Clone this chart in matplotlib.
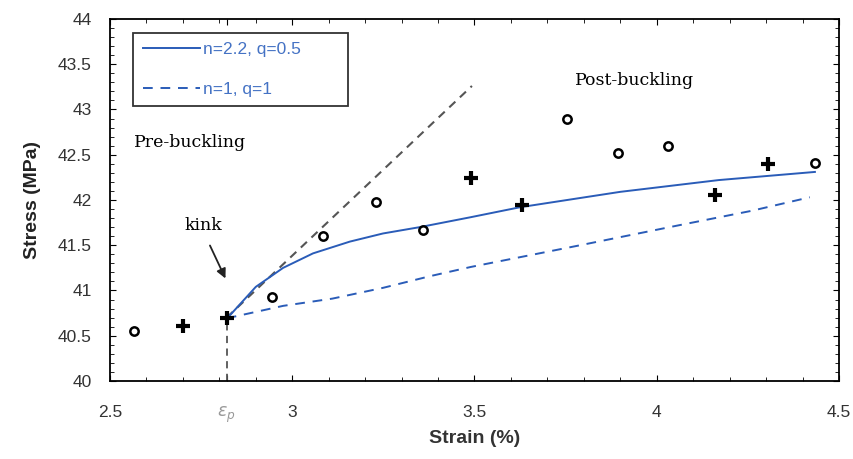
import matplotlib
matplotlib.use('Agg')
from matplotlib import pyplot as plt
from matplotlib.ticker import MultipleLocator
import numpy as np

# measured points
circ_x = [2.566, 2.944, 3.084, 3.23, 3.36, 3.754, 3.894, 4.031, 4.434]
circ_y = [40.55, 40.93, 41.60, 41.98, 41.67, 42.90, 42.52, 42.60, 42.41]
plus_x = [2.70, 2.82, 3.49, 3.63, 4.16, 4.305]
plus_y = [40.61, 40.70, 42.24, 41.95, 42.06, 42.40]

# model curves
solid_x = [2.82, 2.83, 2.90, 2.975, 3.057, 3.158, 3.249, 3.35, 3.49, 3.625, 3.90, 4.17, 4.434]
solid_y = [40.70, 40.73, 41.04, 41.25, 41.41, 41.54, 41.63, 41.70, 41.81, 41.92, 42.09, 42.22, 42.31]
dash_x = [2.82, 2.84, 2.975, 3.11, 3.25, 3.38, 3.49, 3.79, 4.06, 4.26, 4.42]
dash_y = [40.70, 40.71, 40.83, 40.91, 41.03, 41.16, 41.26, 41.50, 41.72, 41.88, 42.03]

# tangent at the kink
tan_x = [2.82, 3.493]
tan_y = [40.70, 43.26]
eps_p = 2.82

xticks = [2.5, 2.82, 3.0, 3.5, 4.0, 4.5]
xlabels = ['2.5', r'$\varepsilon_p$', '3', '3.5', '4', '4.5']
yticks = [40, 40.5, 41, 41.5, 42, 42.5, 43, 43.5, 44]
ylabels = ['40', '40.5', '41', '41.5', '42', '42.5', '43', '43.5', '44']

plt.rcParams['font.family'] = ['Liberation Sans', 'DejaVu Sans']
blue = '#2a5cb8'
fig = plt.figure(figsize=(8.54, 4.59), dpi=100)
ax = fig.add_axes([0.1288, 0.170, 0.8536, 0.7886])

ax.plot(tan_x, tan_y, color='#555555', ls=(0, (4, 3)), lw=1.5)
ax.plot([eps_p, eps_p], [40, 40.70], color='#555555', ls=(0, (4, 3)), lw=1.3)
ax.plot(solid_x, solid_y, color=blue, lw=1.4, label='n=2.2, q=0.5')
ax.plot(dash_x, dash_y, color=blue, lw=1.4, ls=(0, (5, 4)), label='n=1, q=1')
ax.plot(circ_x, circ_y, ls='none', marker='o', ms=6, mfc='white', mec='black', mew=1.8)
ax.plot(plus_x, plus_y, ls='none', marker='+', ms=10, mec='black', mew=3)

ax.set_xlim(2.5, 4.5)
ax.set_ylim(40, 44)
ax.set_xticks(xticks)
ax.set_xticklabels(xlabels)
ax.set_yticks(yticks)
ax.set_yticklabels(ylabels)
ax.xaxis.set_minor_locator(MultipleLocator(0.1))
ax.yaxis.set_minor_locator(MultipleLocator(0.1))
ax.tick_params(which='both', direction='in', top=True, right=True, labelsize=12.5, labelcolor='#333333')
ax.tick_params(which='major', length=4)
ax.tick_params(which='minor', length=3)
ax.tick_params(axis='x', pad=17)
ax.tick_params(axis='y', pad=13)
ax.get_xticklabels()[1].set_color('#999999')
for s in ax.spines.values():
    s.set_linewidth(1.3)

ax.set_xlabel('Strain (%)', fontsize=14, fontweight='bold', color='#333333', labelpad=4)
ax.set_ylabel('Stress (MPa)', fontsize=14, fontweight='bold', color='#222222', labelpad=12)

leg = ax.legend(loc='upper left', bbox_to_anchor=(0.0316, 0.5, 0.295, 0.462), mode='expand',
                fontsize=12.5, frameon=True, fancybox=False, edgecolor='black',
                handlelength=3.3, handletextpad=0.2, labelspacing=1.4, borderpad=0.55,
                borderaxespad=0)
leg.get_frame().set_linewidth(1.3)
for t in leg.get_texts():
    t.set_color('#4472c4')

ax.text(2.72, 42.64, 'Pre-buckling', family='DejaVu Serif', fontsize=12.5, ha='center', va='center')
ax.text(3.94, 43.32, 'Post-buckling', family='DejaVu Serif', fontsize=12.5, ha='center', va='center')
ax.text(2.757, 41.72, 'kink', family='DejaVu Serif', fontsize=12.5, ha='center', va='center')
ax.annotate('', xy=(2.82, 41.105), xytext=(2.771, 41.525),
            arrowprops=dict(arrowstyle='-|>', color='#222222', lw=1.3, mutation_scale=14))

fig.savefig('out.png', dpi=100)
